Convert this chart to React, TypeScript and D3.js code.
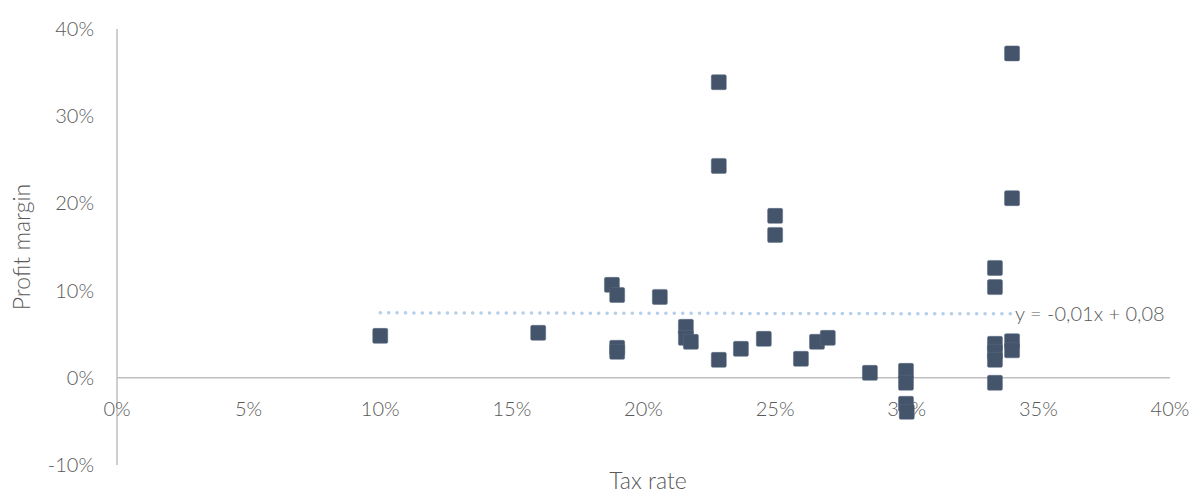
import React from "react";
import * as d3 from "d3";

const taxRate = [
  0.10, 0.16, 0.188, 0.19, 0.19, 0.19, 0.2062, 0.2161, 0.2161, 0.218,
  0.2286, 0.2286, 0.2286, 0.237, 0.2457, 0.25, 0.25, 0.2598, 0.2659, 0.27,
  0.286, 0.2997, 0.2997, 0.2997, 0.30, 0.3335, 0.3335, 0.3335, 0.3335, 0.3335,
  0.3335, 0.34, 0.34, 0.34, 0.34,
];
const profitMargin = [
  0.0481, 0.0516, 0.1066, 0.095, 0.0344, 0.0298, 0.0928, 0.0585, 0.0458, 0.0413,
  0.339, 0.243, 0.0206, 0.0332, 0.0447, 0.1857, 0.1639, 0.0218, 0.0413, 0.0458,
  0.0057, 0.008, -0.0057, -0.0298, -0.039, 0.126, 0.104, 0.039, 0.0298, 0.0206,
  -0.0057, 0.372, 0.206, 0.042, 0.0315,
];
const trendX = [0.10, 0.34];
const trendY = [0.0745, 0.0734];
const trendLabel = "y = -0,01x + 0,08";
const xTicks = [0, 0.05, 0.1, 0.15, 0.2, 0.25, 0.3, 0.35, 0.4];
const yTicks = [-0.1, 0, 0.1, 0.2, 0.3, 0.4];
const xTitle = "Tax rate";
const yTitle = "Profit margin";

const W = 1192;
const H = 494;
const FONT = "Lato, 'Open Sans', sans-serif";
const TEXT = "#595959";
const AXIS = "#BFBFBF";
const MARK = "#44546A";

export default function App() {
  const x = d3.scaleLinear().domain([0, 0.4]).range([117, 1170]);
  const y = d3.scaleLinear().domain([-0.1, 0.4]).range([465, 29]);
  const f = d3.format(".0%");
  const fmt = (v: number) => f(v).replace("\u2212", "-");
  const line = d3
    .line<number>()
    .x((_, i) => x(trendX[i]))
    .y((d) => y(d));
  const s = 15;
  return (
    <svg
      width={W}
      height={H}
      style={{ position: "absolute", left: 0, top: 0, background: "#fff" }}
      fontFamily={FONT}
      fontWeight={300}
    >
      <line x1={x(0)} x2={x(0)} y1={y(0.4)} y2={y(-0.1)} stroke={AXIS} strokeWidth={1.5} />
      <line x1={x(0)} x2={x(0.4)} y1={y(0)} y2={y(0)} stroke={AXIS} strokeWidth={1.5} />
      {yTicks.map((t) => (
        <text key={"y" + t} x={94} y={y(t)} dy="0.35em" textAnchor="end" fontSize={20} fill={TEXT}>
          {fmt(t)}
        </text>
      ))}
      {xTicks.map((t) => (
        <text key={"x" + t} x={x(t)} y={409} dy="0.35em" textAnchor="middle" fontSize={20} fill={TEXT}>
          {fmt(t)}
        </text>
      ))}
      <text x={648} y={481} dy="0.35em" textAnchor="middle" fontSize={23} fill={TEXT}>
        {xTitle}
      </text>
      <text
        transform={`translate(22,247) rotate(-90)`}
        dy="0.35em"
        textAnchor="middle"
        fontSize={23}
        fill={TEXT}
      >
        {yTitle}
      </text>
      <path
        d={line(trendY) || ""}
        fill="none"
        stroke="#B4CFEA"
        strokeWidth={3.5}
        strokeDasharray="0.1 8.3"
        strokeLinecap="round"
      />
      <text x={x(trendX[1]) + 3} y={y(trendY[1])} dy="0.35em" fontSize={20} fill={TEXT}>
        {trendLabel}
      </text>
      {taxRate.map((t, i) => (
        <rect
          key={i}
          x={x(t) - s / 2}
          y={y(profitMargin[i]) - s / 2}
          width={s}
          height={s}
          rx={1.5}
          fill={MARK}
          stroke="#5a6a80"
          strokeWidth={0.5}
        />
      ))}
    </svg>
  );
}
